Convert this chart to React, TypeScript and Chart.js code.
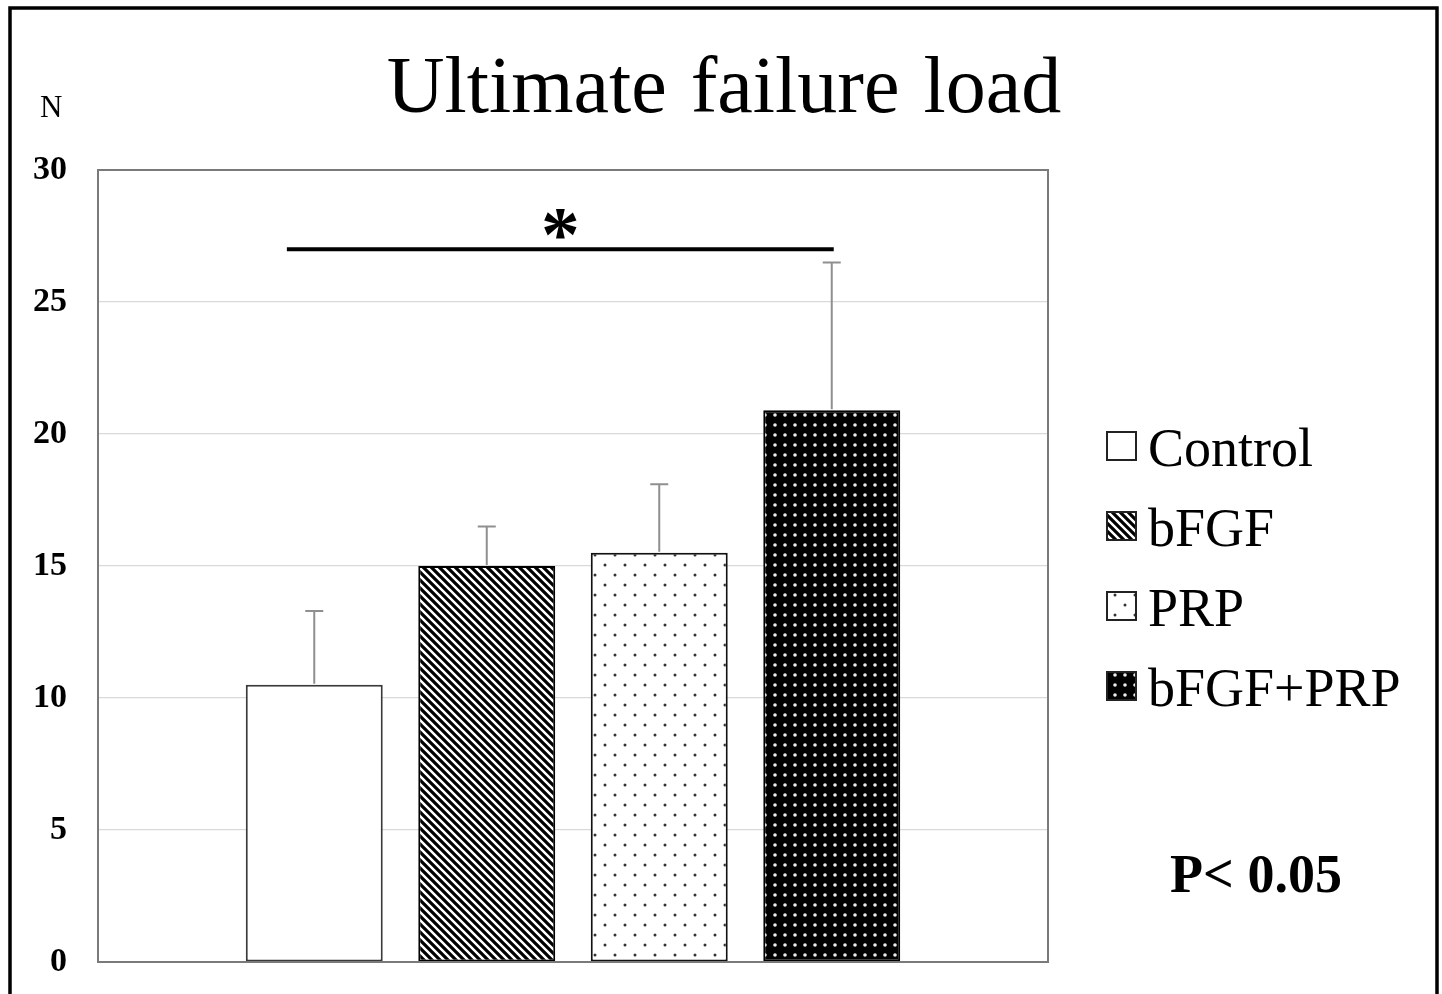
import React, { useEffect, useRef } from 'react';
import { Chart, registerables } from 'chart.js';

Chart.register(...registerables);

const groups = ['Control', 'bFGF', 'PRP', 'bFGF+PRP'];
const means = [10.5, 15.0, 15.5, 20.9];
const sds = [2.8, 1.5, 2.6, 5.6];
const yTicks = [0, 5, 10, 15, 20, 25, 30];
const sigPair = [0, 3];
const sigLevel = 27;
const titleText = 'Ultimate failure load';
const unitText = 'N';
const pText = 'P< 0.05';

const SERIF = "'Liberation Serif', 'Times New Roman', serif";

function makePattern(kind: string): CanvasPattern | string {
  const c = document.createElement('canvas');
  const g = c.getContext('2d')!;
  if (kind === 'stripes') {
    const s = 8;
    c.width = s;
    c.height = s;
    g.fillStyle = '#fff';
    g.fillRect(0, 0, s, s);
    g.strokeStyle = '#000';
    g.lineWidth = 3.2;
    g.beginPath();
    for (let k = -2; k <= 2; k++) {
      g.moveTo(k * s - s, -s);
      g.lineTo(k * s + 2 * s, 2 * s);
    }
    g.stroke();
  } else if (kind === 'sparse') {
    const s = 20;
    c.width = s;
    c.height = s;
    g.fillStyle = '#fff';
    g.fillRect(0, 0, s, s);
    g.fillStyle = '#333';
    [[5, 5], [15, 15]].forEach(([x, y]) => {
      g.beginPath();
      g.arc(x, y, 1.5, 0, Math.PI * 2);
      g.fill();
    });
  } else if (kind === 'dense') {
    const s = 10;
    c.width = s;
    c.height = s;
    g.fillStyle = '#000';
    g.fillRect(0, 0, s, s);
    g.fillStyle = '#ececec';
    g.beginPath();
    g.arc(5, 5, 1.8, 0, Math.PI * 2);
    g.fill();
  } else {
    return '#ffffff';
  }
  return g.createPattern(c, 'repeat')!;
}

const patternKinds = ['plain', 'stripes', 'sparse', 'dense'];
const borderColors = ['#3a3a3a', '#000000', '#111111', '#000000'];

export default function App() {
  const ref = useRef<HTMLCanvasElement>(null);

  useEffect(() => {
    const canvas = ref.current!;
    const fills = patternKinds.map(makePattern);

    const annotations = {
      id: 'annotations',
      beforeDraw(chart: any) {
        const { ctx } = chart;
        ctx.save();
        ctx.fillStyle = '#fff';
        ctx.fillRect(0, 0, chart.width, chart.height);
        ctx.restore();
      },
      afterDatasetsDraw(chart: any) {
        const { ctx, chartArea: a, scales } = chart;
        const y = scales.y;
        ctx.save();
        ctx.strokeStyle = '#7a7a7a';
        ctx.lineWidth = 2;
        ctx.strokeRect(a.left, a.top, a.right - a.left, a.bottom - a.top);
        ctx.strokeStyle = '#8f8f8f';
        ctx.lineWidth = 2;
        groups.forEach((_, i) => {
          const bar: any = chart.getDatasetMeta(i).data[0];
          const yTop = y.getPixelForValue(means[i] + sds[i]);
          ctx.beginPath();
          ctx.moveTo(bar.x, bar.y - 1);
          ctx.lineTo(bar.x, yTop);
          ctx.moveTo(bar.x - 9, yTop);
          ctx.lineTo(bar.x + 9, yTop);
          ctx.stroke();
        });
        ctx.restore();
      },
      afterDraw(chart: any) {
        const { ctx, chartArea: a, scales } = chart;
        const y = scales.y;
        ctx.save();
        ctx.fillStyle = '#000';
        ctx.font = `80px ${SERIF}`;
        (ctx as any).wordSpacing = '4px';
        ctx.textAlign = 'center';
        ctx.textBaseline = 'alphabetic';
        ctx.fillText(titleText, 724, 112);
        (ctx as any).wordSpacing = '0px';
        ctx.font = `31px ${SERIF}`;
        ctx.textAlign = 'left';
        ctx.fillText(unitText, 40, 117);
        const b0: any = chart.getDatasetMeta(sigPair[0]).data[0];
        const b1: any = chart.getDatasetMeta(sigPair[1]).data[0];
        const x0 = b0.x - b0.width * 0.2;
        const x1 = b1.x + 2;
        const ly = y.getPixelForValue(sigLevel);
        ctx.strokeStyle = '#000';
        ctx.lineWidth = 4;
        ctx.beginPath();
        ctx.moveTo(x0, ly);
        ctx.lineTo(x1, ly);
        ctx.stroke();
        ctx.font = `bold 80px ${SERIF}`;
        const m = ctx.measureText('*');
        const h = m.actualBoundingBoxAscent + m.actualBoundingBoxDescent;
        const fs = 80 * (30 / h);
        ctx.font = `bold ${fs}px ${SERIF}`;
        const m2 = ctx.measureText('*');
        ctx.textAlign = 'center';
        ctx.fillText('*', (x0 + x1) / 2, ly - 10 - m2.actualBoundingBoxDescent);
        const midY = (a.top + a.bottom) / 2;
        const step = 80;
        ctx.textAlign = 'left';
        ctx.font = `54px ${SERIF}`;
        groups.forEach((g, i) => {
          const cy = midY + (i - 1.5) * step;
          ctx.fillStyle = fills[i] as any;
          ctx.fillRect(1107, cy - 14, 29, 28);
          ctx.strokeStyle = '#222';
          ctx.lineWidth = 2;
          ctx.strokeRect(1107, cy - 14, 29, 28);
          ctx.fillStyle = '#000';
          ctx.fillText(g, 1148, cy + 20);
        });
        ctx.font = `bold 54px ${SERIF}`;
        ctx.textAlign = 'center';
        ctx.fillText(pText, 1256, 892);
        ctx.strokeStyle = '#000';
        ctx.lineWidth = 3.5;
        ctx.beginPath();
        ctx.moveTo(10, chart.height + 10);
        ctx.lineTo(10, 8);
        ctx.lineTo(1437, 8);
        ctx.lineTo(1437, chart.height + 10);
        ctx.stroke();
        ctx.restore();
      },
    };

    const chart = new Chart(canvas, {
      type: 'bar',
      data: {
        labels: [''],
        datasets: groups.map((g, i) => ({
          label: g,
          data: [means[i]],
          backgroundColor: fills[i] as any,
          borderColor: borderColors[i],
          borderWidth: 2,
          borderSkipped: false,
        })),
      },
      options: {
        responsive: false,
        animation: false,
        events: [],
        layout: { padding: { left: 0, right: 394, top: 170, bottom: 32 } },
        datasets: { bar: { categoryPercentage: 0.7263, barPercentage: 0.794 } },
        plugins: {
          legend: { display: false },
          tooltip: { enabled: false },
          title: { display: false },
        },
        scales: {
          x: { display: false },
          y: {
            min: 0,
            max: 30,
            afterBuildTicks: (scale: any) => {
              scale.ticks = yTicks.map((v) => ({ value: v }));
            },
            afterFit: (scale: any) => {
              scale.width = 98;
              scale.paddingTop = 0;
              scale.paddingBottom = 0;
            },
            ticks: {
              color: '#000',
              padding: 31,
              font: { family: SERIF, size: 34, weight: 'bold' },
            },
            grid: { color: '#d9d9d9', lineWidth: 1.2, drawTicks: false },
            border: { display: false },
          },
        },
      },
      plugins: [annotations],
    } as any);

    return () => chart.destroy();
  }, []);

  return (
    <div style={{ position: 'absolute', left: 0, top: 0, width: 1442, height: 994 }}>
      <canvas ref={ref} width={1442} height={994} style={{ display: 'block' }} />
    </div>
  );
}
